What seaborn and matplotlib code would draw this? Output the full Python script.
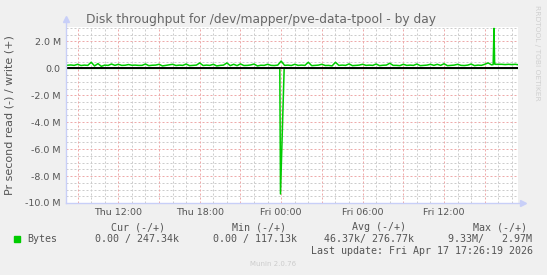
import numpy as np
import pandas as pd
import matplotlib
matplotlib.use("Agg")
import matplotlib.pyplot as plt
import seaborn as sns

# ---------------- data ----------------
# hours counted from Thu 00:00; write values (M bytes/s) at :00, :15, :30, :45 of each hour
write_hours = list(range(8, 42))
write_quarter_values = [
    [0.22, 0.23, 0.25, 0.22],  # 8
    [0.30, 0.21, 0.24, 0.22],  # 9
    [0.45, 0.18, 0.35, 0.15],  # 10
    [0.24, 0.22, 0.32, 0.22],  # 11
    [0.30, 0.22, 0.23, 0.28],  # 12
    [0.23, 0.24, 0.22, 0.22],  # 13
    [0.32, 0.20, 0.23, 0.24],  # 14
    [0.30, 0.18, 0.22, 0.26],  # 15
    [0.30, 0.21, 0.24, 0.22],  # 16
    [0.32, 0.20, 0.22, 0.24],  # 17
    [0.40, 0.21, 0.24, 0.22],  # 18
    [0.30, 0.18, 0.22, 0.24],  # 19
    [0.40, 0.20, 0.30, 0.20],  # 20
    [0.33, 0.21, 0.22, 0.25],  # 21
    [0.32, 0.18, 0.23, 0.22],  # 22
    [0.30, 0.22, 0.21, 0.24],  # 23
    [0.54, 0.22, 0.24, 0.21],  # 24
    [0.30, 0.22, 0.24, 0.22],  # 25
    [0.45, 0.20, 0.22, 0.24],  # 26
    [0.30, 0.21, 0.22, 0.18],  # 27
    [0.45, 0.22, 0.24, 0.22],  # 28
    [0.33, 0.20, 0.22, 0.24],  # 29
    [0.30, 0.22, 0.24, 0.22],  # 30
    [0.32, 0.20, 0.23, 0.24],  # 31
    [0.38, 0.22, 0.22, 0.20],  # 32
    [0.30, 0.22, 0.24, 0.22],  # 33
    [0.32, 0.20, 0.22, 0.24],  # 34
    [0.30, 0.22, 0.30, 0.22],  # 35
    [0.34, 0.20, 0.22, 0.24],  # 36
    [0.30, 0.22, 0.21, 0.24],  # 37
    [0.32, 0.20, 0.24, 0.22],  # 38
    [0.30, 0.40, 0.26, 0.30],  # 39
    [0.30, 0.30, 0.28, 0.30],  # 40
    [0.28, 0.30, 0.26, 0.25],  # 41
]
write_spike_hours = [39.62, 39.68, 39.73]
write_spike_values = [0.28, 2.97, 0.32]

read_hours = [8.0, 23.90, 23.95, 24.22, 41.5]
read_values = [0.0, 0.0, -9.33, 0.0, 0.0]

x_tick_hours = [12, 18, 24, 30, 36]
x_tick_labels = ["Thu 12:00", "Thu 18:00", "Fri 00:00", "Fri 06:00", "Fri 12:00"]
y_tick_values = [2, 0, -2, -4, -6, -8, -10]
y_tick_labels = ["2.0 M", "0.0", "-2.0 M", "-4.0 M", "-6.0 M", "-8.0 M", "-10.0 M"]

legend_headers = ["Cur (-/+)", "Min (-/+)", "Avg (-/+)", "Max (-/+)"]
legend_values = ["0.00 / 247.34k", "0.00 / 117.13k", "46.37k/ 276.77k", "9.33M/   2.97M"]

# ---------------- build frames ----------------
wt, wv = [], []
for h, vals in zip(write_hours, write_quarter_values):
    for q, v in enumerate(vals):
        wt.append(h + q * 0.25)
        wv.append(v)
wt += write_spike_hours
wv += write_spike_values
write_df = pd.DataFrame({"hour": wt, "value": np.array(wv) * 1e6}).sort_values("hour")
read_df = pd.DataFrame({"hour": read_hours, "value": np.array(read_values) * 1e6})

# ---------------- figure ----------------
W, H = 547, 275
fig = plt.figure(figsize=(W / 100, H / 100), dpi=100, facecolor="#f0f0f0")

def fx(x):
    return x / W

def fy(y):
    return 1 - y / H

L, R, T, B = 66, 518, 27, 203
ax = fig.add_axes([fx(L), fy(B), (R - L) / W, (B - T) / H])
ax.set_facecolor("white")

x_min, x_max = 8.146, 41.45
y_min, y_max = -10e6, 3.07e6
ax.set_xlim(x_min, x_max)
ax.set_ylim(y_min, y_max)

dash = (0, (2, 2))
for h in np.arange(9, 42, 1.0):
    if h % 3 != 0:
        ax.axvline(h, color="#cccccc", lw=0.72, ls=dash, zorder=1)
for v in np.arange(-9.5, 3.01, 0.5):
    if v % 2 != 0:
        ax.axhline(v * 1e6, color="#cccccc", lw=0.72, ls=dash, zorder=1)
for h in np.arange(9, 42, 3.0):
    ax.axvline(h, color="#eeaaaa", lw=0.72, ls=dash, zorder=2)
for v in [2, -2, -4, -6, -8]:
    ax.axhline(v * 1e6, color="#eeaaaa", lw=0.72, ls=dash, zorder=2)

green = "#00cc00"
sns.lineplot(data=read_df, x="hour", y="value", ax=ax, color=green, lw=1.1,
             estimator=None, zorder=3, legend=False)
sns.lineplot(data=write_df, x="hour", y="value", ax=ax, color=green, lw=1.1,
             estimator=None, zorder=3, legend=False)
ax.axhline(0, color="black", lw=1.4, zorder=4)

for s in ax.spines.values():
    s.set_visible(False)

# axis lines with arrows
axis_c = "#c8cff8"
ax.plot([0, 0], [0, 1.03], transform=ax.transAxes, color=axis_c, lw=1, clip_on=False, zorder=5)
ax.plot([0], [1.045], marker="^", ms=4, color=axis_c, transform=ax.transAxes, clip_on=False, zorder=5)
ax.plot([0, 1.005], [0, 0], transform=ax.transAxes, color=axis_c, lw=1, clip_on=False, zorder=5)
ax.plot([1.01], [0], marker=">", ms=4, color=axis_c, transform=ax.transAxes, clip_on=False, zorder=5)

txt_c = "#555555"
ax.set_xticks(x_tick_hours)
ax.set_xticklabels(x_tick_labels)
ax.set_yticks([v * 1e6 for v in y_tick_values])
ax.set_yticklabels(y_tick_labels)
ax.tick_params(axis="both", length=0, labelsize=6.8, colors=txt_c)
ax.tick_params(axis="x", pad=3.5)
ax.tick_params(axis="y", pad=3.8)
ax.set_xlabel("")
ax.set_ylabel("")

fig.text(fx(261), fy(19), "Disk throughput for /dev/mapper/pve-data-tpool - by day",
         ha="center", va="center", fontsize=8.8, color="#666666")
fig.text(fx(10), fy(115), "Pr second read (-) / write (+)", rotation=90,
         ha="center", va="center", fontsize=8.0, color=txt_c)
fig.text(fx(537), fy(5), "RRDTOOL / TOBI OETIKER", rotation=270,
         ha="center", va="top", fontsize=5.4, color="#d0d0d0")

mono = "DejaVu Sans Mono"
fs = 7.2
fig.patches.append(plt.Rectangle((fx(14), fy(242)), 6 / W, 6 / H, transform=fig.transFigure,
                                 color=green, figure=fig))
fig.text(fx(27), fy(239), "Bytes", family=mono, fontsize=fs, color=txt_c, ha="left", va="center")
for x0, t in zip([110.7, 231.7, 352, 472.7], legend_headers):
    fig.text(fx(x0), fy(227.3), t, family=mono, fontsize=fs, color=txt_c, ha="left", va="center")
for x0, t in zip([95, 212.7, 324, 448], legend_values):
    fig.text(fx(x0), fy(239), t, family=mono, fontsize=fs, color=txt_c, ha="left", va="center")
fig.text(fx(311), fy(251), "Last update: Fri Apr 17 17:26:19 2026", family=mono, fontsize=fs,
         color=txt_c, ha="left", va="center")
fig.text(fx(273), fy(264.3), "Munin 2.0.76", fontsize=5.0, color="#cccccc", ha="center", va="center")

fig.savefig("out.png", dpi=100, facecolor=fig.get_facecolor())
